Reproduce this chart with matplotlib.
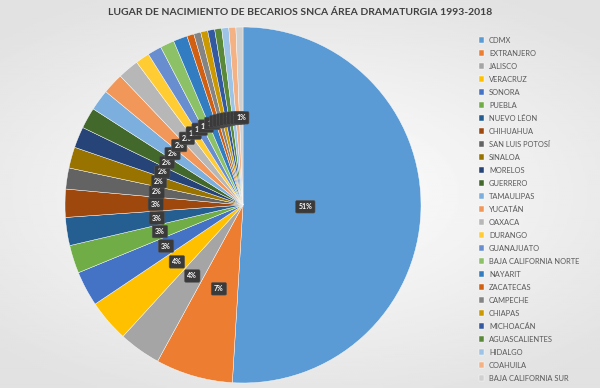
import numpy as np
import matplotlib.pyplot as plt

plt.rcParams['font.family'] = ['Lato', 'DejaVu Sans']

# birthplace counts
estados = ["CDMX", "EXTRANJERO", "JALISCO", "VERACRUZ", "SONORA", "PUEBLA",
           "NUEVO LÉON", "CHIHUAHUA", "SAN LUIS POTOSÍ", "SINALOA", "MORELOS",
           "GUERRERO", "TAMAULIPAS", "YUCATÁN", "OAXACA", "DURANGO", "GUANAJUATO",
           "BAJA CALIFORNIA NORTE", "NAYARIT", "ZACATECAS", "CAMPECHE", "CHIAPAS",
           "MICHOACÁN", "AGUASCALIENTES", "HIDALGO", "COAHUILA", "BAJA CALIFORNIA SUR"]
becarios = [80, 11, 6, 6, 5, 4, 4, 4, 3, 3, 3, 3, 3, 3, 3, 2, 2, 2, 2,
            1, 1, 1, 1, 1, 1, 1, 1]
colores = ["#5B9BD5", "#ED7D31", "#A5A5A5", "#FFC000", "#4472C4", "#70AD47",
           "#255E91", "#9E480E", "#636363", "#997300", "#264478", "#43682B",
           "#7CAFDD", "#F1975A", "#B7B7B7", "#FFCD33", "#698ED0", "#8CC168",
           "#327DC2", "#D26012", "#848484", "#CC9A00", "#335AA1", "#5A8A39",
           "#9DC3E6", "#F4B183", "#D0D0D0"]

fig = plt.figure(figsize=(6, 3.88), dpi=100)

# soft grey background like the excel export
bg = fig.add_axes([0, 0, 1, 1], zorder=-10)
yy, xx = np.mgrid[-1:1:200j, -1:1:300j]
rr = np.sqrt((xx * 0.9) ** 2 + (yy * 1.1) ** 2)
bg.imshow(1 - 0.09 * np.clip(rr, 0, 1.3), cmap="gray", vmin=0, vmax=1,
          extent=[0, 1, 0, 1], aspect="auto")
bg.axis("off")

ax = fig.add_axes([65 / 600, 5 / 388, 356 / 600, 356 / 388])
wedges, texts, autotexts = ax.pie(
    becarios, colors=colores, startangle=90, counterclock=False,
    autopct=lambda p: "%d%%" % round(p), pctdistance=0.49,
    wedgeprops=dict(edgecolor="white", linewidth=0.3),
    textprops=dict(color="white", fontsize=5, fontweight="bold"))
for t in autotexts:
    t.set_bbox(dict(boxstyle="round,pad=0.4,rounding_size=0.2", fc="#3a3a3a",
                    ec="#555555", lw=0.4))
# excel moved the big label closer to the centre
autotexts[0].set_position((0.35, -0.01))
ax.set_xlim(-1, 1)
ax.set_ylim(-1, 1)
ax.set_aspect("equal")

fig.text(0.5, 0.968, "LUGAR DE NACIMIENTO DE BECARIOS SNCA ÁREA DRAMATURGIA 1993-2018",
         ha="center", va="center", fontsize=7.5, fontweight="bold", color="#404040")

fig.legend(wedges, estados, loc="upper left", bbox_to_anchor=(475 / 600, 1 - 33 / 388),
           frameon=False, fontsize=5.4, labelcolor="#595959", handlelength=0.75,
           handleheight=0.75, handletextpad=0.6, labelspacing=0.8, borderpad=0)

fig.savefig("out.png", dpi=100)
